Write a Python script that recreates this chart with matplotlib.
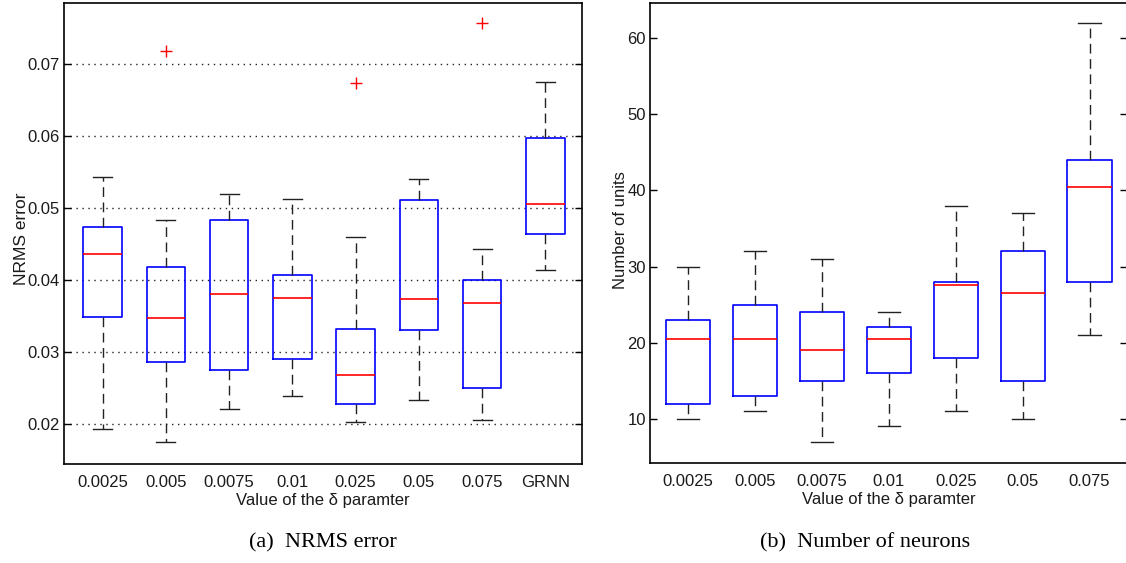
import matplotlib
matplotlib.use("Agg")
import matplotlib.pyplot as plt

# (a) NRMS error per delta value
err_labels = ["0.0025", "0.005", "0.0075", "0.01", "0.025", "0.05", "0.075", "GRNN"]
err_whislo = [0.0194, 0.0175, 0.0221, 0.0240, 0.0204, 0.0234, 0.0206, 0.0414]
err_q1 = [0.0349, 0.0287, 0.0275, 0.0291, 0.0228, 0.0331, 0.0250, 0.0464]
err_med = [0.0436, 0.0347, 0.0381, 0.0376, 0.0269, 0.0374, 0.0369, 0.0506]
err_q3 = [0.0474, 0.0419, 0.0484, 0.0408, 0.0333, 0.0511, 0.0401, 0.0597]
err_whishi = [0.0543, 0.0484, 0.0520, 0.0513, 0.0460, 0.0541, 0.0443, 0.0676]
err_fliers = [[], [0.0719], [], [], [0.0674], [], [0.0757], []]

# (b) number of units per delta value
units_labels = ["0.0025", "0.005", "0.0075", "0.01", "0.025", "0.05", "0.075"]
units_whislo = [10, 11, 7, 9, 11, 10, 21]
units_q1 = [12, 13, 15, 16, 18, 15, 28]
units_med = [20.5, 20.5, 19, 20.5, 27.6, 26.5, 40.5]
units_q3 = [23, 25, 24, 22, 28, 32, 44]
units_whishi = [30, 32, 31, 24, 38, 37, 62]
units_fliers = [[] for _ in units_labels]

TXT = "#1a1a1a"
SANS = "Liberation Sans"


def make_stats(lo, q1, med, q3, hi, fl):
    return [dict(whislo=a, q1=b, med=c, q3=d, whishi=e, fliers=f)
            for a, b, c, d, e, f in zip(lo, q1, med, q3, hi, fl)]


def draw_box(ax, stats, labels, width, capw):
    ax.bxp(stats, positions=range(1, len(stats) + 1), widths=width,
           capwidths=capw, showfliers=True,
           boxprops=dict(color="#0000ff", lw=1.2),
           medianprops=dict(color="#ff0000", lw=1.2),
           whiskerprops=dict(color="#222222", lw=1.0, linestyle=(0, (7, 4))),
           capprops=dict(color="#222222", lw=1.0),
           flierprops=dict(marker="+", markeredgecolor="#ff0000",
                           markersize=8, mew=1.0, linestyle="none"))
    ax.set_xticks(range(1, len(labels) + 1))
    ax.set_xticklabels(labels, fontsize=12, family=SANS, color=TXT)
    ax.tick_params(axis="x", length=0, pad=8)
    ax.tick_params(axis="y", direction="in", length=5, width=1.0,
                   left=True, right=True, labelsize=12, labelcolor=TXT, pad=3)
    for lab in ax.get_yticklabels():
        lab.set_family(SANS)
    for sp in ax.spines.values():
        sp.set_linewidth(1.2)
    ax.set_xlabel("Value of the δ paramter", fontsize=12, family=SANS,
                  color=TXT, labelpad=2)


fig = plt.figure(figsize=(11.26, 5.63), dpi=100)

ax1 = fig.add_axes([64 / 1126, 1 - 464 / 563, 518 / 1126, 461 / 563])
draw_box(ax1, make_stats(err_whislo, err_q1, err_med, err_q3, err_whishi, err_fliers),
         err_labels, 0.61, 0.3)
ax1.set_xlim(0.39, 8.58)
ax1.set_ylim(0.0145, 0.0785)
ax1.set_yticks([0.02, 0.03, 0.04, 0.05, 0.06, 0.07])
ax1.set_yticklabels(["0.02", "0.03", "0.04", "0.05", "0.06", "0.07"], family=SANS)
ax1.yaxis.grid(True, color="#222222", linestyle=(0, (1, 3.3)), lw=1.0)
ax1.set_axisbelow(True)
ax1.set_ylabel("NRMS error", fontsize=12.5, family=SANS, color=TXT)
ax1.yaxis.set_label_coords(-0.067, 0.488)

ax2 = fig.add_axes([650 / 1126, 1 - 463 / 563, 477 / 1126, 460 / 563])
draw_box(ax2, make_stats(units_whislo, units_q1, units_med, units_q3, units_whishi, units_fliers),
         units_labels, 0.66, 0.33)
ax2.set_xlim(0.43, 7.56)
ax2.set_ylim(4.2, 64.6)
ax2.set_yticks([10, 20, 30, 40, 50, 60])
ax2.set_yticklabels(["10", "20", "30", "40", "50", "60"], family=SANS)
ax2.set_ylabel("Number of units", fontsize=12, family=SANS, color=TXT)
ax2.yaxis.set_label_coords(-0.047, 0.506)

fig.text(323 / 1126, 1 - 543 / 563, "(a)  NRMS error", family="Liberation Serif",
         fontsize=16, ha="center", va="center")
fig.text(865 / 1126, 1 - 543 / 563, "(b)  Number of neurons", family="Liberation Serif",
         fontsize=16, ha="center", va="center")

fig.savefig("out.png", dpi=100)
